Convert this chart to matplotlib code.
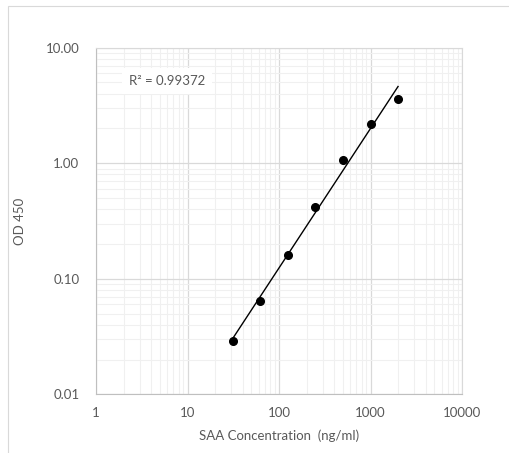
import numpy as np
import matplotlib.pyplot as plt
from matplotlib.ticker import FixedLocator, FixedFormatter, LogLocator, NullFormatter
from matplotlib.patches import Rectangle

plt.rcParams['font.family'] = ['Lato', 'DejaVu Sans']

# SAA standard curve
conc = [31.25, 62.5, 125, 250, 500, 1000, 2000]
od450 = [0.029, 0.064, 0.160, 0.419, 1.06, 2.18, 3.62]
r2_label = 'R² = 0.99372'

x_ticks = [1, 10, 100, 1000, 10000]
x_labels = ['1', '10', '100', '1000', '10000']
y_ticks = [0.01, 0.1, 1, 10]
y_labels = ['0.01', '0.10', '1.00', '10.00']

fig = plt.figure(figsize=(5.09, 4.53), dpi=100)
# chart area border like the spreadsheet export
fig.patches.append(Rectangle((8 / 509, -0.1), 1.2, 1 - 6 / 453 + 0.1, transform=fig.transFigure,
                             fill=False, edgecolor='#d9d9d9', linewidth=0.8))
ax = fig.add_axes([96 / 509, 1 - 394.3 / 453, 366 / 509, 346.6 / 453])

ax.set_xscale('log')
ax.set_yscale('log')
ax.set_xlim(1, 10000)
ax.set_ylim(0.01, 10)

ax.xaxis.set_major_locator(FixedLocator(x_ticks))
ax.xaxis.set_major_formatter(FixedFormatter(x_labels))
ax.yaxis.set_major_locator(FixedLocator(y_ticks))
ax.yaxis.set_major_formatter(FixedFormatter(y_labels))
ax.xaxis.set_minor_locator(LogLocator(base=10, subs=np.arange(2, 10)))
ax.yaxis.set_minor_locator(LogLocator(base=10, subs=np.arange(2, 10)))
ax.xaxis.set_minor_formatter(NullFormatter())
ax.yaxis.set_minor_formatter(NullFormatter())

ax.grid(True, which='major', color='#d9d9d9', linewidth=0.9)
ax.grid(True, which='minor', color='#f0f0f0', linewidth=0.8)
ax.set_axisbelow(True)
ax.tick_params(which='both', length=0, colors='#595959', labelsize=9.5)
ax.tick_params(axis='x', pad=9)
ax.tick_params(axis='y', pad=12)
for s in ax.spines.values():
    s.set_color('#d9d9d9')
ax.spines['bottom'].set_color('#bfbfbf')
ax.spines['left'].set_color('#bfbfbf')

# power trendline
lx = np.log10(conc)
ly = np.log10(od450)
b, a = np.polyfit(lx, ly, 1)
xf = np.array([conc[0], conc[-1]])
ax.plot(xf, 10 ** a * xf ** b, color='black', linewidth=1.0, zorder=3)

ax.plot(conc, od450, 'o', color='black', markersize=5.5, zorder=4)

ax.text(0.09, 0.905, r2_label, transform=ax.transAxes, fontsize=9.5, color='#595959',
        va='center', ha='left',
        bbox=dict(facecolor='white', edgecolor='none', pad=5))

ax.set_xlabel('SAA Concentration  (ng/ml)', color='#595959', fontsize=9.5, labelpad=8)
ax.set_ylabel('OD 450', color='#595959', fontsize=9.5, labelpad=14)

fig.savefig('out.png', dpi=100)
